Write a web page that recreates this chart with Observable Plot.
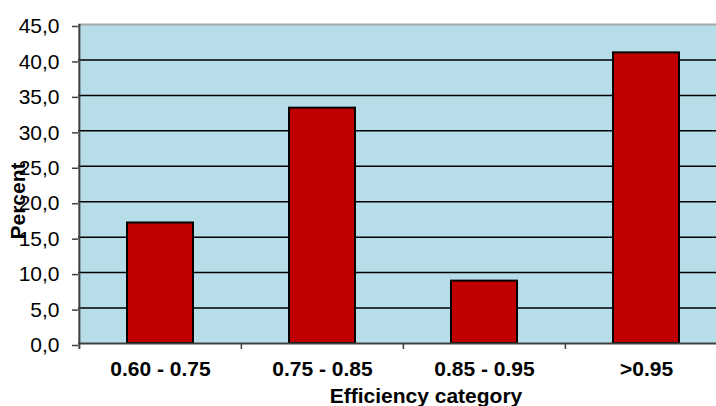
<!DOCTYPE html>
<html>
<head>
<meta charset="utf-8">
<script src="https://cdn.jsdelivr.net/npm/d3@7"></script>
<script src="https://cdn.jsdelivr.net/npm/@observablehq/plot@0.6"></script>
<style>
  html, body { margin: 0; padding: 0; background: #fff; overflow: hidden; }
  #chart svg { display: block; max-width: none !important; }
</style>
</head>
<body>
<div id="chart"></div>
<script>
const categories = ["0.60 - 0.75", "0.75 - 0.85", "0.85 - 0.95", ">0.95"];
const percents = [17.0, 33.2, 8.8, 41.0];
const yTicks = [0, 5, 10, 15, 20, 25, 30, 35, 40, 45];
const xTitle = "Efficiency category";
const yTitle = "Percent";

const data = categories.map((c, i) => ({category: c, value: percents[i]}));

const W = 727, H = 406;
const mL = 78, mR = 0, mT = 24, mB = 63;
const step = (W - mL - mR) / categories.length;
const fmt = d => d.toFixed(1).replace(".", ",");
const font = "'Liberation Sans', Arial, sans-serif";

const chart = Plot.plot({
  width: W,
  height: H,
  marginLeft: mL,
  marginRight: mR,
  marginTop: mT,
  marginBottom: mB,
  style: {fontFamily: font, color: "#000", background: "#fff", overflow: "visible", maxWidth: "none"},
  x: {type: "band", domain: categories, padding: 0, axis: null},
  y: {domain: [0, 45], axis: null},
  marks: [
    Plot.frame({fill: "#B7DDE8", stroke: null}),
    Plot.ruleY(yTicks.filter(d => d > 0 && d < 45), {stroke: "#000", strokeWidth: 1.5}),
    Plot.ruleY([45], {stroke: "#a6a6a6", strokeWidth: 2}),
    Plot.barY(data, {x: "category", y: "value", fill: "#C00000", stroke: "#000", strokeWidth: 2, insetLeft: 48, insetRight: 48}),
    Plot.ruleY([0], {stroke: "#404040", strokeWidth: 2}),
    Plot.ruleX([categories[0]], {dx: -step / 2, stroke: "#404040", strokeWidth: 2, insetBottom: -6}),
    Plot.axisY({ticks: yTicks, tickFormat: fmt, tickSize: 6, tickPadding: 13, fontSize: 21, stroke: "#404040", strokeWidth: 1.5, dy: 2, label: null}),
    Plot.axisX({ticks: categories.slice(1), tickSize: 6, dx: -step / 2, text: null, stroke: "#404040", strokeWidth: 1.5, label: null}),
    Plot.axisX({tickSize: 0, tickPadding: 18, fontSize: 21, fontWeight: "bold", label: null}),
    Plot.text([xTitle], {frameAnchor: "bottom", text: d => d, lineAnchor: "middle", textAnchor: "middle", dx: 23, dy: 53, fontSize: 21, fontWeight: "bold"}),
    Plot.text([yTitle], {frameAnchor: "left", text: d => d, rotate: -90, lineAnchor: "middle", textAnchor: "middle", dx: -60, dy: 17, fontSize: 21, fontWeight: "bold"})
  ]
});
document.getElementById("chart").appendChild(chart);
</script>
</body>
</html>
